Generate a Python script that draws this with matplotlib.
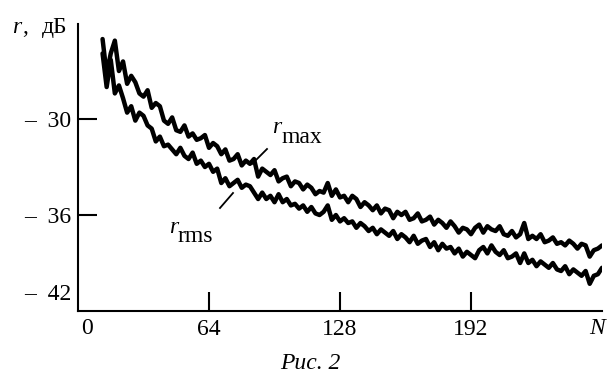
import matplotlib
matplotlib.use("Agg")
import matplotlib.pyplot as plt
from matplotlib.lines import Line2D

# ---- data ----
N_values = list(range(12, 257, 2))
r_max = [
    -25.0, -27.2, -25.9, -25.1, -27.0, -26.4, -27.8, -27.3, -27.7, -28.4,
    -28.6, -28.2, -29.3, -29.0, -29.2, -30.1, -30.3, -29.9, -30.7, -30.8,
    -30.4, -31.1, -30.9, -31.3, -31.2, -31.0, -31.8, -31.5, -31.7, -32.2,
    -31.9, -32.6, -32.5, -32.2, -32.9, -32.6, -32.8, -32.5, -33.6, -33.1,
    -33.3, -33.5, -33.2, -33.9, -33.7, -33.6, -34.2, -33.9, -34.0, -34.4,
    -34.1, -34.3, -34.7, -34.5, -34.6, -34.0, -34.8, -34.4, -34.9, -34.8,
    -35.2, -34.8, -35.0, -35.5, -35.2, -35.4, -35.7, -35.4, -35.9, -35.6,
    -35.7, -36.2, -35.8, -36.0, -35.8, -36.3, -36.2, -35.9, -36.4, -36.3,
    -36.1, -36.6, -36.3, -36.5, -36.8, -36.4, -36.7, -37.1, -36.8, -36.9,
    -37.2, -36.8, -36.6, -37.1, -36.7, -36.9, -37.0, -36.7, -37.2, -37.3,
    -37.0, -37.4, -37.2, -36.5, -37.5, -37.3, -37.5, -37.2, -37.7, -37.6,
    -37.4, -37.8, -37.7, -37.9, -37.6, -37.8, -38.1, -37.8, -37.9, -38.6,
    -38.2, -38.1, -37.9,
]
r_rms = [
    -25.9, -28.0, -26.3, -28.4, -27.9, -28.7, -29.6, -29.2, -30.1, -29.6,
    -29.8, -30.4, -30.6, -31.4, -31.1, -31.7, -31.6, -31.9, -32.2, -31.8,
    -32.3, -32.5, -32.1, -32.8, -32.6, -33.0, -32.8, -33.3, -33.1, -34.0,
    -33.7, -34.2, -34.0, -33.8, -34.3, -34.1, -34.2, -34.6, -35.0, -34.6,
    -35.0, -34.8, -35.2, -34.7, -35.2, -35.0, -35.4, -35.3, -35.6, -35.4,
    -35.8, -35.5, -35.9, -36.0, -35.8, -35.4, -36.3, -36.0, -36.4, -36.2,
    -36.5, -36.4, -36.8, -36.5, -36.7, -37.0, -36.8, -37.2, -36.9, -37.1,
    -37.3, -37.0, -37.5, -37.2, -37.4, -37.7, -37.3, -37.8, -37.6, -37.5,
    -38.0, -37.7, -38.2, -37.8, -38.1, -38.0, -38.4, -38.1, -38.6, -38.3,
    -38.5, -38.7, -38.2, -38.0, -38.4, -37.9, -38.3, -38.5, -38.2, -38.7,
    -38.6, -38.4, -39.0, -38.4, -39.0, -38.8, -39.2, -38.9, -39.1, -39.3,
    -39.0, -39.4, -39.5, -39.2, -39.7, -39.4, -39.6, -39.8, -39.5, -40.3,
    -39.8, -39.7, -39.3,
]
x_ticks = [64, 128, 192]
x_tick_labels = ["64", "128", "192"]
y_ticks = [-30, -36]
y_tick_labels = ["\u2013  30", "\u2013  36"]

assert len(N_values) == len(r_max) == len(r_rms)

# ---- figure ----
W, H = 611, 376
fig = plt.figure(figsize=(W / 100, H / 100), dpi=100)
plt.rcParams["font.family"] = ["Liberation Serif", "DejaVu Serif"]
FS = 17


def fx(x):
    return x / W


def fy(y):
    return 1 - y / H


ax = fig.add_axes([fx(78), fy(311), (602 - 78) / W, (311 - 24) / H])
ax.set_xlim(0, 256)
ax.set_ylim(-42, -24.06)

for series in (r_max, r_rms):
    ax.plot(N_values, series, color="black", lw=3.2, solid_joinstyle="round",
            solid_capstyle="round")

for s in ["top", "right"]:
    ax.spines[s].set_visible(False)
for s in ["left", "bottom"]:
    ax.spines[s].set_linewidth(1.5)

ax.set_xticks(x_ticks)
ax.set_xticklabels(x_tick_labels, fontsize=FS)
ax.set_yticks(y_ticks)
ax.set_yticklabels(y_tick_labels, fontsize=FS)
ax.tick_params(axis="both", direction="in", length=14, width=1.5, pad=5)
ax.tick_params(axis="x", pad=6)

# extra axis labels
fig.text(fx(87), fy(318), "0", fontsize=FS, ha="center", va="top")
fig.text(fx(597), fy(318), "N", fontsize=FS, ha="center", va="top", style="italic")
fig.text(fx(71), fy(295), "\u2013  42", fontsize=FS, ha="right", va="center")

# y-axis label
fig.text(fx(12), fy(33), "r", fontsize=FS, style="italic", va="baseline")
fig.text(fx(22), fy(33), ",", fontsize=FS, va="baseline")
fig.text(fx(42), fy(33), "дБ", fontsize=FS, va="baseline")

# series labels
fig.text(fx(272), fy(133), "r", fontsize=FS, style="italic", va="baseline")
fig.text(fx(281), fy(143), "max", fontsize=FS, va="baseline")
fig.text(fx(169), fy(233), "r", fontsize=FS, style="italic", va="baseline")
fig.text(fx(178), fy(242), "rms", fontsize=FS, va="baseline")

# leader lines
fig.add_artist(Line2D([fx(267), fx(252)], [fy(149), fy(164)], color="black",
                      lw=1.3, transform=fig.transFigure))
fig.add_artist(Line2D([fx(233), fx(220)], [fy(193), fy(208)], color="black",
                      lw=1.3, transform=fig.transFigure))

# caption
fig.text(fx(310), fy(369), "Рис. 2", fontsize=FS, style="italic",
         ha="center", va="baseline")

fig.savefig("out.png", dpi=100)
